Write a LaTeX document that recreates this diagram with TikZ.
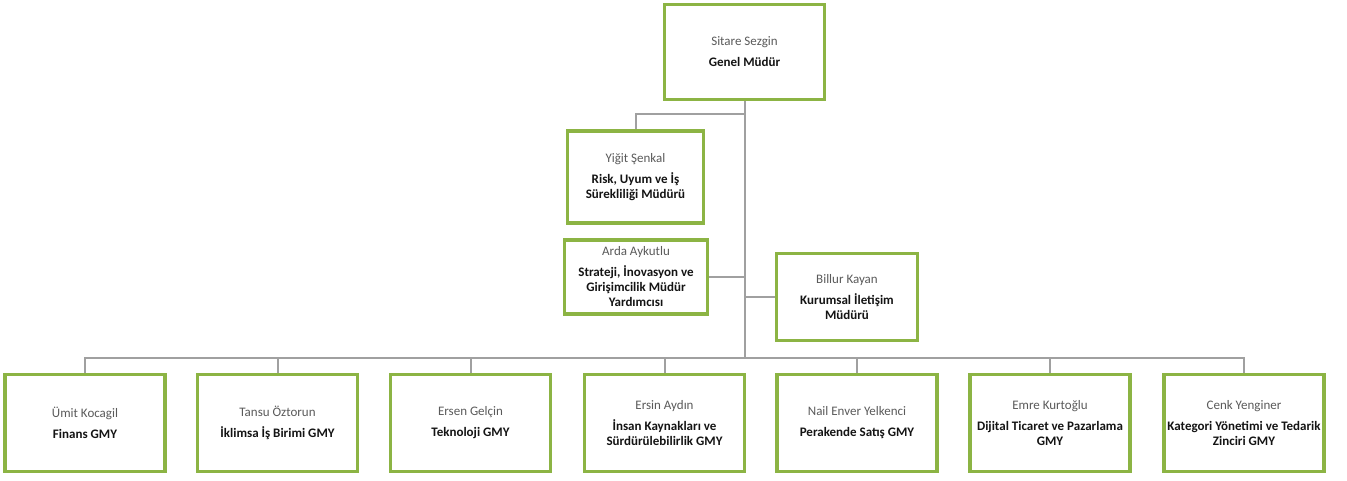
\documentclass[tikz,border=0pt]{standalone}
\usepackage{fontspec}
\setmainfont{Carlito}
\definecolor{boxgreen}{RGB}{140,180,68}
\definecolor{linegray}{RGB}{160,160,160}
\definecolor{namegray}{RGB}{90,90,90}
\definecolor{titleblack}{RGB}{20,20,20}
\newcommand{\nm}[1]{\textcolor{namegray}{#1}}
\newcommand{\ttl}[1]{\textcolor{titleblack}{\bfseries #1}}
\begin{document}
\begin{tikzpicture}[x=1pt,y=-1pt,
  orgbox/.style={draw=boxgreen, line width=3.2pt, fill=white, align=center,
    inner sep=1pt, font=\fontsize{13}{15}\selectfont},
  wide/.style={orgbox, minimum width=160pt, minimum height=97pt},
  conn/.style={draw=linegray, line width=2pt}]
\useasboundingbox[fill=white] (0,0) rectangle (1347,481);

\coordinate (j1) at (744.5,114);
\coordinate (bus) at (744.5,358);

\node[orgbox, minimum width=160pt, minimum height=95pt] (gm) at (744.5,52) {\nm{Sitare Sezgin}\\[6pt]\ttl{Genel Müdür}};
\node[orgbox, minimum width=136pt, minimum height=92pt] (yigit) at (635.5,177) {\nm{Yiğit Şenkal}\\[6pt]\ttl{Risk, Uyum ve İş}\\\ttl{Sürekliliği Müdürü}};
\node[orgbox, minimum width=143pt, minimum height=74pt] (arda) at (636,277) {\nm{Arda Aykutlu}\\[6pt]\ttl{Strateji, İnovasyon ve}\\\ttl{Girişimcilik Müdür}\\\ttl{Yardımcısı}};
\node[orgbox, minimum width=141pt, minimum height=87pt] (billur) at (847,297) {\nm{Billur Kayan}\\[6pt]\ttl{Kurumsal İletişim}\\\ttl{Müdürü}};

\node[wide] (b1) at (85,423) {\nm{Ümit Kocagil}\\[6pt]\ttl{Finans GMY}};
\node[wide] (b2) at (277.5,423) {\nm{Tansu Öztorun}\\[6pt]\ttl{İklimsa İş Birimi GMY}};
\node[wide] (b3) at (470.5,423) {\nm{Ersen Gelçin}\\[6pt]\ttl{Teknoloji GMY}};
\node[wide] (b4) at (664.5,423) {\nm{Ersin Aydın}\\[6pt]\ttl{İnsan Kaynakları ve}\\\ttl{Sürdürülebilirlik GMY}};
\node[wide] (b5) at (857,423) {\nm{Nail Enver Yelkenci}\\[6pt]\ttl{Perakende Satış GMY}};
\node[wide] (b6) at (1050,423) {\nm{Emre Kurtoğlu}\\[6pt]\ttl{Dijital Ticaret ve Pazarlama}\\\ttl{GMY}};
\node[wide] (b7) at (1244,423) {\nm{Cenk Yenginer}\\[6pt]\ttl{Kategori Yönetimi ve Tedarik}\\\ttl{Zinciri GMY}};

\draw[conn] (gm.south) -- (bus);
\draw[conn] (j1) -| (yigit.north);
\draw[conn] (arda.east) -- (arda.east -| gm.south);
\draw[conn] (billur.west) -- (billur.west -| gm.south);
\foreach \b in {b1,b2,b3,b4,b5,b6,b7}{
  \draw[conn] (bus) -| (\b.north);
}
\end{tikzpicture}
\end{document}
